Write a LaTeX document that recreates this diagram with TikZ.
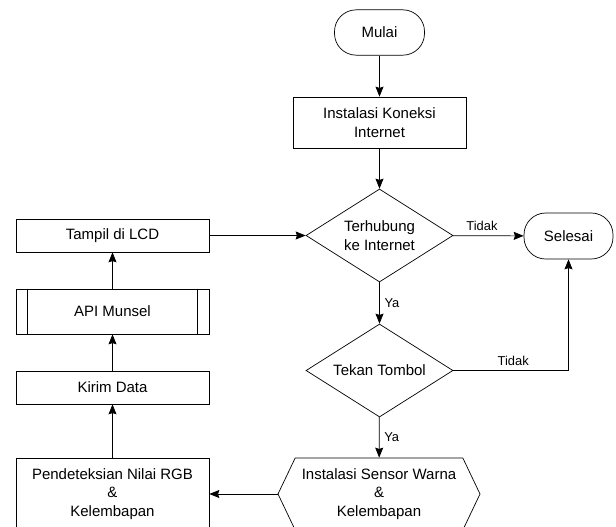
\documentclass[tikz,border=0pt]{standalone}
\usepackage{fontspec}
\setmainfont{Liberation Sans}
\usepackage{tikz}
\usetikzlibrary{arrows.meta,positioning,shapes.geometric,shapes.symbols}

\begin{document}
\begin{tikzpicture}[
  x=0.03cm, y=-0.03cm,
  font=\fontsize{12.8}{15.8}\selectfont,
  every path/.style={line width=0.6pt},
  terminal/.style={draw, rectangle, rounded corners=0.65cm, align=center, minimum width=2.7cm, minimum height=1.36cm, inner sep=0pt},
  proc/.style={draw, rectangle, align=center, minimum width=5.79cm, inner sep=0pt},
  decision/.style={draw, diamond, aspect=1.58, align=center, minimum width=4.41cm, minimum height=2.79cm, inner sep=0pt},
  prep/.style={draw, signal, signal to=west and east, signal pointer angle=129, align=center, minimum width=6.06cm, minimum height=2.16cm, inner sep=0pt},
  flow/.style={-{Stealth[length=3mm,width=2.4mm,inset=0.4mm]}},
  lab/.style={font=\fontsize{11}{13}\selectfont, inner sep=1pt}
]
\useasboundingbox (0,0) rectangle (616,526);
\node[terminal] (mulai) at (379.5,32.5) {Mulai};
\node[proc, minimum width=5.19cm, minimum height=1.53cm] (koneksi) at (379.5,122.5) {Instalasi Koneksi\\Internet};
\node[decision] (terhubung) at (379.5,235.5) {Terhubung\\ke Internet};
\node[terminal, minimum width=2.67cm, minimum height=1.38cm] (selesai) at (568.5,236) {Selesai};
\node[decision] (tekan) at (379.5,370.5) {Tekan Tombol};
\node[prep] (sensor) at (379,494) {Instalasi Sensor Warna\\\&\\Kelembapan};
\node[proc, minimum height=2.16cm] (deteksi) at (112.5,494) {Pendeteksian Nilai RGB\\\&\\Kelembapan};
\node[proc, minimum height=0.99cm] (kirim) at (112.5,387.5) {Kirim Data};
\node[proc, minimum height=1.35cm] (api) at (112.5,311.5) {API Munsel};
\node[proc, minimum height=0.99cm] (tampil) at (112.5,235.5) {Tampil di LCD};
\draw ([xshift=0.36cm]api.north west) -- ([xshift=0.36cm]api.south west);
\draw ([xshift=-0.36cm]api.north east) -- ([xshift=-0.36cm]api.south east);
\draw[flow] (mulai) -- (koneksi);
\draw[flow] (koneksi) -- (terhubung);
\draw[flow] (terhubung) -- node[lab,above,pos=0.41,yshift=3pt]{Tidak} (selesai);
\draw[flow] (terhubung) -- node[lab,right,xshift=3pt]{Ya} (tekan);
\draw[flow] (tekan.east) -| node[lab,above,pos=0.26,yshift=3pt]{Tidak} (selesai.south);
\draw[flow] (tekan) -- node[lab,right,xshift=3pt]{Ya} (sensor);
\draw[flow] (sensor.west) -- (deteksi.east);
\foreach \a/\b in {deteksi/kirim,kirim/api,api/tampil}{\draw[flow] (\a) -- (\b);}
\draw[flow] (tampil) -- (terhubung);
\end{tikzpicture}
\end{document}
